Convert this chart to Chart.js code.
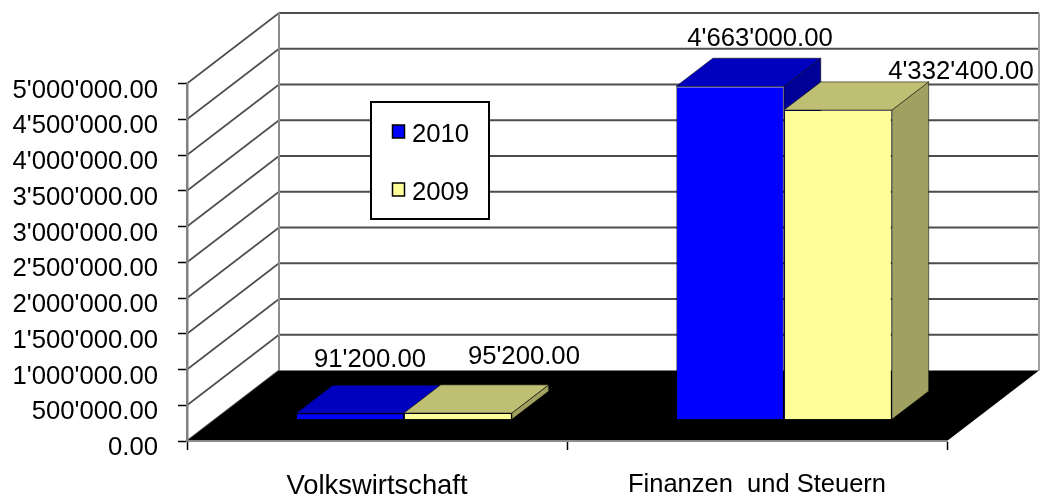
<!DOCTYPE html>
<html>
<head>
<meta charset="utf-8">
<style>
html,body{margin:0;padding:0;background:#fff}
canvas{display:block;filter:blur(0.45px)}
</style>
<script src="https://cdn.jsdelivr.net/npm/chart.js@4"></script>
</head>
<body>
<canvas id="c" width="1044" height="495"></canvas>
<script>
const categories = ["Volkswirtschaft", "Finanzen  und Steuern"];
const values2010 = [91200, 4663000];
const values2009 = [95200, 4332400];
const seriesNames = ["2010", "2009"];
const yMax = 5000000;
const yStep = 500000;

const FONT = '25.7px "Liberation Sans", Arial, sans-serif';
const DEPTH_X = 92, DEPTH_Y = -70.5;
const BAR_NEAR_X = 0.293, BAR_NEAR_Y = 0.3, BAR_SPAN = 0.4;
const faces = [
  {front:'#0000FF', top:'#0000BF', side:'#000099'},
  {front:'#FFFF99', top:'#BFBF73', side:'#A0A060'}
];
// value-label placement relative to each bar's front-top centre: [dataset][category]
const labelShift = [
  [[20, -53], [30, -48]],
  [[66, -56], [123, -38]]
];

function fmt(v){
  const s = Number(v).toFixed(2).split('.');
  return s[0].replace(/\B(?=(\d{3})+(?!\d))/g, "'") + '.' + s[1];
}
function poly(ctx, pts, fill, stroke, lw){
  ctx.beginPath();
  pts.forEach((p,i)=> i ? ctx.lineTo(p[0],p[1]) : ctx.moveTo(p[0],p[1]));
  ctx.closePath();
  if(fill){ctx.fillStyle=fill;ctx.fill();}
  if(stroke){ctx.strokeStyle=stroke;ctx.lineWidth=lw||1;ctx.lineJoin='round';ctx.stroke();}
}
function line(ctx,x1,y1,x2,y2,color,w){
  ctx.beginPath();ctx.moveTo(x1,y1);ctx.lineTo(x2,y2);
  ctx.strokeStyle=color;ctx.lineWidth=w;ctx.stroke();
}

const threeD = {
  id:'threeD',
  beforeDraw(chart){
    const ctx=chart.ctx, y=chart.scales.y, a=chart.chartArea;
    const L=a.left, R=a.right, B=y.getPixelForValue(0), T=y.getPixelForValue(yMax);
    ctx.save();
    y.ticks.forEach(t=>{
      const py=y.getPixelForValue(t.value);
      if(t.value>0) line(ctx,L+DEPTH_X,py+DEPTH_Y,R+DEPTH_X,py+DEPTH_Y,'#4d4d4d',2);
      line(ctx,L,py,L+DEPTH_X,py+DEPTH_Y,'#4d4d4d',1.6);
    });
    line(ctx,L+DEPTH_X,T+DEPTH_Y,L+DEPTH_X,B+DEPTH_Y,'#8c8c8c',2);
    line(ctx,R+DEPTH_X,T+DEPTH_Y,R+DEPTH_X,B+DEPTH_Y,'#a0a0a0',2);
    poly(ctx,[[L,B],[L+DEPTH_X,B+DEPTH_Y],[R+DEPTH_X,B+DEPTH_Y],[R,B]],'#000');
    ctx.restore();
  },
  beforeDatasetsDraw(chart){
    const ctx=chart.ctx;
    const sx=DEPTH_X*BAR_NEAR_X, sy=DEPTH_Y*BAR_NEAR_Y;
    const dx=DEPTH_X*BAR_SPAN, dy=DEPTH_Y*BAR_SPAN;
    ctx.save();
    chart.data.datasets.forEach((ds,i)=>{
      chart.getDatasetMeta(i).data.forEach(el=>{
        const p=el.getProps(['x','y','base','width'],true);
        const l=p.x-p.width/2+sx, r=p.x+p.width/2+sx, t=p.y+sy, b=p.base+sy;
        const edge='rgba(0,0,0,0.55)';
        poly(ctx,[[r,t],[r+dx,t+dy],[r+dx,b+dy],[r,b]],faces[i].side,edge,1);
        poly(ctx,[[l,t],[l+dx,t+dy],[r+dx,t+dy],[r,t]],faces[i].top,edge,1);
      });
    });
    ctx.restore();
    ctx.save();
    ctx.translate(sx,sy);
  },
  afterDatasetsDraw(chart){
    const ctx=chart.ctx;
    ctx.restore();
    ctx.save();
    ctx.font=FONT;ctx.fillStyle='#000';ctx.textAlign='center';ctx.textBaseline='middle';
    chart.data.datasets.forEach((ds,i)=>{
      chart.getDatasetMeta(i).data.forEach((el,k)=>{
        const p=el.getProps(['x','y'],true);
        const sh=labelShift[i][k];
        ctx.fillText(fmt(ds.data[k]),p.x+DEPTH_X*BAR_NEAR_X+sh[0],p.y+DEPTH_Y*BAR_NEAR_Y+sh[1]);
      });
    });
    // legend box
    ctx.fillStyle='#fff';ctx.strokeStyle='#000';ctx.lineWidth=2;
    ctx.fillRect(371,102,118,117);ctx.strokeRect(371,102,118,117);
    ctx.textAlign='left';
    chart.data.datasets.forEach((ds,i)=>{
      const cy=i===0?132:190;
      ctx.fillStyle=ds.backgroundColor;ctx.lineWidth=1.5;ctx.strokeStyle='#000';
      ctx.fillRect(392.5,cy-7,12,13);ctx.strokeRect(392.5,cy-7,12,13);
      ctx.fillStyle='#000';
      ctx.fillText(ds.label,412,cy+3);
    });
    ctx.restore();
  }
};

new Chart(document.getElementById('c'),{
  type:'bar',
  data:{
    labels:categories,
    datasets:[
      {label:seriesNames[0],data:values2010,backgroundColor:faces[0].front,borderColor:'rgba(0,0,0,0.45)',borderWidth:1},
      {label:seriesNames[1],data:values2009,backgroundColor:faces[1].front,borderColor:'rgba(0,0,0,0.45)',borderWidth:1}
    ]
  },
  plugins:[threeD],
  options:{
    responsive:false,
    animation:false,
    layout:{padding:{top:83.5,right:97,left:0,bottom:0}},
    datasets:{bar:{categoryPercentage:0.568,barPercentage:1,clip:false}},
    plugins:{legend:{display:false},title:{display:false},tooltip:{enabled:false}},
    scales:{
      x:{
        grid:{offset:true,drawOnChartArea:false,drawTicks:true,tickLength:9,tickColor:'#000',tickWidth:1.5},
        border:{display:true,color:'#8c8c8c',width:2},
        ticks:{color:'#000',font:c=>({family:'"Liberation Sans"',size:c.index===0?27.4:25.5}),padding:20,maxRotation:0,autoSkip:false},
        afterFit(s){s.height=54;}
      },
      y:{
        min:0,max:yMax,
        grid:{drawOnChartArea:false,drawTicks:true,tickLength:9,tickColor:'#000',tickWidth:1.5},
        border:{display:true,color:'#808080',width:2.5},
        ticks:{stepSize:yStep,color:'#000',font:{family:'"Liberation Sans"',size:25.7},padding:20,labelOffset:7,autoSkip:false,callback:v=>fmt(v)},
        afterFit(s){s.width=187;}
      }
    }
  }
});
</script>
</body>
</html>
